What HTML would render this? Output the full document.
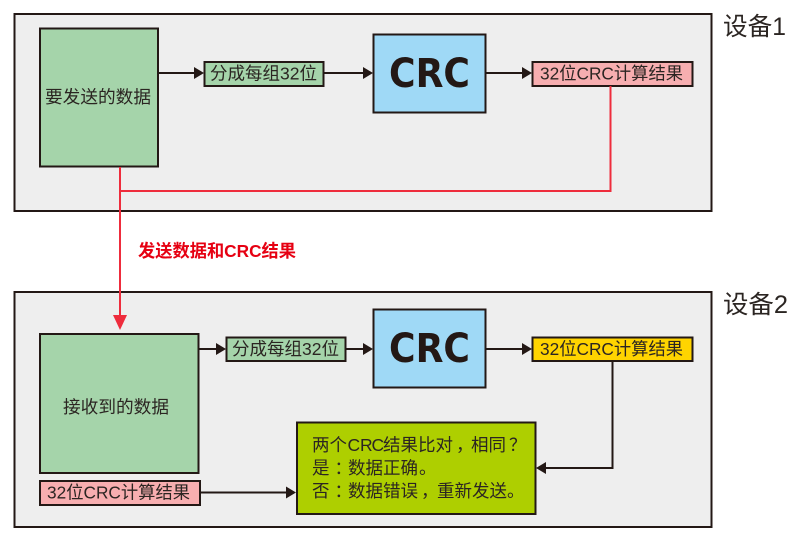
<!DOCTYPE html>
<html>
<head>
<meta charset="utf-8">
<style>
html,body{margin:0;padding:0;background:#fff}
svg{display:block}
text{font-family:"Liberation Sans","Noto Sans CJK SC",sans-serif;fill:#2b2522}
.b{stroke:#231815;stroke-width:2}
.l{stroke:#231815;stroke-width:2;fill:none}
.r{stroke:#ee2c3c;stroke-width:2;fill:none}
.crc{font-family:"DejaVu Sans","Liberation Sans",sans-serif;font-weight:bold;font-size:40px;fill:#231815}
</style>
</head>
<body>
<svg width="798" height="540" viewBox="0 0 798 540" xmlns="http://www.w3.org/2000/svg">
<rect x="14.500" y="14" width="697" height="197" fill="#eeeeee" class="b"/>
<rect x="14.500" y="292" width="697" height="235" fill="#eeeeee" class="b"/>

<rect x="40" y="28.500" width="118" height="138" fill="#a5d4aa" class="b"/>
<rect x="204.500" y="62" width="119" height="24" fill="#a5d4aa" class="b"/>
<rect x="373.500" y="34.500" width="112" height="78" fill="#9fd9f6" class="b"/>
<rect x="532.500" y="62" width="160" height="24" fill="#f7aeb0" class="b"/>

<path d="M158 73H195M324 73H365M486 73H523" class="l"/>
<path d="M194 67L204 73L194 79ZM363 67L373 73L363 79ZM522 67L532 73L522 79Z" fill="#231815"/>

<path d="M120 167V318M120 191H610.500V86" class="r"/>
<path d="M113 315L127 315L120 330Z" fill="#ee2c3c"/>

<text x="138" y="257" font-size="17.500" font-weight="bold" style="fill:#e60012" textLength="158" lengthAdjust="spacingAndGlyphs">发送数据和CRC结果</text>

<text x="45" y="103" font-size="17.500" textLength="106" lengthAdjust="spacingAndGlyphs">要发送的数据</text>
<text x="210" y="79.500" font-size="17.500" textLength="107" lengthAdjust="spacingAndGlyphs">分成每组32位</text>
<text x="389" y="87" class="crc" textLength="81" lengthAdjust="spacingAndGlyphs">CRC</text>
<text x="540" y="79.500" font-size="17.500" textLength="143" lengthAdjust="spacingAndGlyphs">32位CRC计算结果</text>
<text x="723" y="35" font-size="25" textLength="63" lengthAdjust="spacingAndGlyphs">设备1</text>
<text x="723" y="313" font-size="25" textLength="65" lengthAdjust="spacingAndGlyphs">设备2</text>

<rect x="40" y="334" width="158.500" height="139" fill="#a5d4aa" class="b"/>
<rect x="226.500" y="337.500" width="119" height="23.500" fill="#a5d4aa" class="b"/>
<rect x="373.500" y="309.500" width="112" height="78" fill="#9fd9f6" class="b"/>
<rect x="532.500" y="337.500" width="160" height="23.500" fill="#ffd400" class="b"/>
<rect x="40" y="481" width="160" height="24" fill="#f7aeb0" class="b"/>
<rect x="297" y="422.500" width="238.500" height="91.500" fill="#aecf00" class="b"/>

<path d="M199 349H218M346 349H364M486 349H523M200 492.500H288M612.500 361V468H545" class="l"/>
<path d="M216 343L226 349L216 355ZM363 343L373 349L363 355ZM522 343L532 349L522 355ZM286 486.500L296 492.500L286 498.500ZM546 462L536 468L546 474Z" fill="#231815"/>

<text x="63" y="413" font-size="17.500" textLength="106" lengthAdjust="spacingAndGlyphs">接收到的数据</text>
<text x="232" y="355" font-size="17.500" textLength="107" lengthAdjust="spacingAndGlyphs">分成每组32位</text>
<text x="389" y="362" class="crc" textLength="81" lengthAdjust="spacingAndGlyphs">CRC</text>
<text x="540" y="355" font-size="17.500" textLength="143" lengthAdjust="spacingAndGlyphs">32位CRC计算结果</text>
<text x="47" y="498.500" font-size="17.500" textLength="143" lengthAdjust="spacingAndGlyphs">32位CRC计算结果</text>

<text font-size="17.500" y="451"><tspan x="312">两个</tspan><tspan x="347.500">C</tspan><tspan x="360">R</tspan><tspan x="371.500">C</tspan><tspan x="383">结果比对</tspan><tspan x="456">，</tspan><tspan x="471">相同</tspan><tspan x="509">？</tspan></text>
<text font-size="17.500" y="474"><tspan x="312">是</tspan><tspan x="334.500">：</tspan><tspan x="348">数据正确</tspan><tspan x="419">。</tspan></text>
<text font-size="17.500" y="497"><tspan x="312">否</tspan><tspan x="334.500">：</tspan><tspan x="348">数据错误</tspan><tspan x="421">，</tspan><tspan x="437">重新发送</tspan><tspan x="507">。</tspan></text>
</svg>
</body>
</html>
